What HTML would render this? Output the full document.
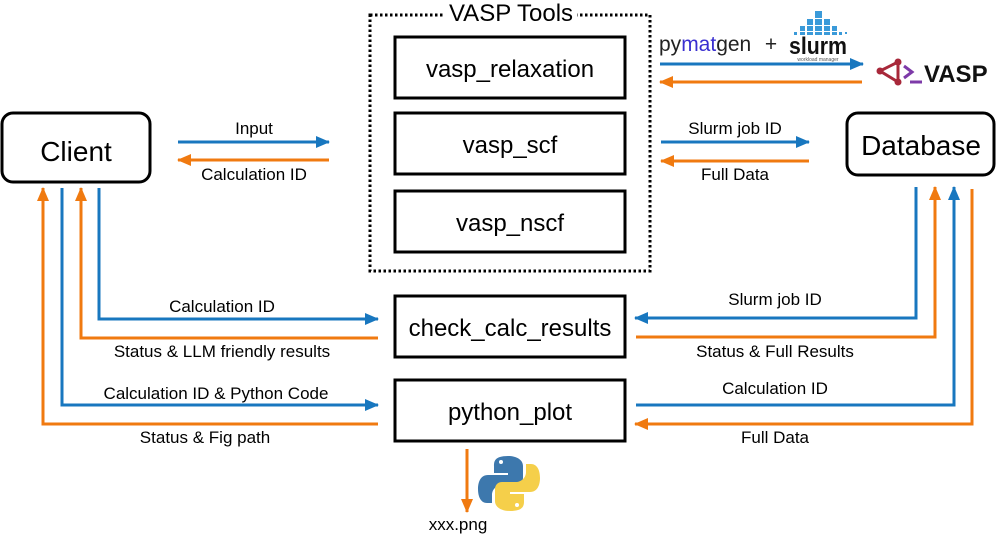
<!DOCTYPE html>
<html><head><meta charset="utf-8"><style>
html,body{margin:0;padding:0;background:#fff;}
svg{display:block;font-family:"Liberation Sans",Arial,sans-serif;}
</style></head><body>
<svg width="997" height="535" viewBox="0 0 997 535" xmlns="http://www.w3.org/2000/svg">
<defs>
<marker id="ab" markerWidth="14" markerHeight="12" refX="13" refY="6" orient="auto" markerUnits="userSpaceOnUse" viewBox="0 0 14 12"><path d="M0,0 L14,6 L0,12 z" fill="#1877bf"/></marker>
<marker id="ao" markerWidth="14" markerHeight="12" refX="13" refY="6" orient="auto" markerUnits="userSpaceOnUse" viewBox="0 0 14 12"><path d="M0,0 L14,6 L0,12 z" fill="#f07a10"/></marker>
</defs>
<g fill="none" stroke-width="3">
<rect x="2" y="113" width="148" height="69" rx="11" stroke="#000"/>
<rect x="847" y="113" width="147" height="62" rx="11" stroke="#000"/>
<rect x="370" y="15" width="280" height="256" stroke="#000" stroke-dasharray="2.5,2.5"/>
<rect x="395" y="37" width="230" height="61" stroke="#000"/>
<rect x="395" y="113" width="230" height="61" stroke="#000"/>
<rect x="395" y="191" width="230" height="61" stroke="#000"/>
<rect x="395" y="296" width="230" height="61" stroke="#000"/>
<rect x="395" y="380" width="230" height="61" stroke="#000"/>
</g>
<rect x="443" y="2" width="134" height="20" fill="#fff"/>
<g font-size="24" text-anchor="middle" fill="#000">
<text x="511" y="21" font-size="24">VASP Tools</text>
<text x="510" y="77">vasp_relaxation</text>
<text x="510" y="153">vasp_scf</text>
<text x="510" y="231">vasp_nscf</text>
<text x="510" y="336">check_calc_results</text>
<text x="510" y="420">python_plot</text>
<text x="76" y="161" font-size="28">Client</text>
<text x="921" y="155" font-size="28">Database</text>
</g>
<g fill="none" stroke-width="3">
<line x1="178" y1="142" x2="329" y2="142" stroke="#1877bf" marker-end="url(#ab)"/>
<line x1="329" y1="160" x2="178" y2="160" stroke="#f07a10" marker-end="url(#ao)"/>
<line x1="661" y1="142" x2="809" y2="142" stroke="#1877bf" marker-end="url(#ab)"/>
<line x1="809" y1="161" x2="661" y2="161" stroke="#f07a10" marker-end="url(#ao)"/>
<line x1="660" y1="64" x2="863" y2="64" stroke="#1877bf" marker-end="url(#ab)"/>
<line x1="862" y1="82" x2="660" y2="82" stroke="#f07a10" marker-end="url(#ao)"/>
<polyline points="99,188 99,319 378,319" stroke="#1877bf" marker-end="url(#ab)"/>
<polyline points="378,338 81,338 81,188" stroke="#f07a10" marker-end="url(#ao)"/>
<polyline points="62,188 62,405 378,405" stroke="#1877bf" marker-end="url(#ab)"/>
<polyline points="378,424 43,424 43,188" stroke="#f07a10" marker-end="url(#ao)"/>
<polyline points="916,187 916,318 635,318" stroke="#1877bf" marker-end="url(#ab)"/>
<polyline points="636,337 935,337 935,187" stroke="#f07a10" marker-end="url(#ao)"/>
<polyline points="636,405 954,405 954,187" stroke="#1877bf" marker-end="url(#ab)"/>
<polyline points="972,189 972,424 635,424" stroke="#f07a10" marker-end="url(#ao)"/>
<line x1="467" y1="449" x2="467" y2="512" stroke="#f07a10" marker-end="url(#ao)"/>
</g>
<g font-size="17" text-anchor="middle" fill="#000">
<text x="254" y="134">Input</text>
<text x="254" y="180">Calculation ID</text>
<text x="735" y="134">Slurm job ID</text>
<text x="735" y="180">Full Data</text>
<text x="222" y="312">Calculation ID</text>
<text x="222" y="357">Status &amp; LLM friendly results</text>
<text x="216" y="399">Calculation ID &amp; Python Code</text>
<text x="205" y="443">Status &amp; Fig path</text>
<text x="775" y="305">Slurm job ID</text>
<text x="775" y="357">Status &amp; Full Results</text>
<text x="775" y="394">Calculation ID</text>
<text x="775" y="443">Full Data</text>
<text x="458" y="530">xxx.png</text>
</g>
<text x="659" y="51" font-size="21" fill="#222">py<tspan fill="#3a2fd0">mat</tspan>gen</text>
<text x="771" y="51" font-size="21" fill="#222" text-anchor="middle">+</text>
<g fill="#3a9ad9">
<rect x="815" y="11" width="7" height="7"/>
<rect x="807" y="19" width="6" height="6"/><rect x="815" y="19" width="7" height="6"/><rect x="824" y="19" width="6" height="6"/>
<rect x="800" y="26" width="5" height="5"/><rect x="807" y="26" width="6" height="5"/><rect x="815" y="26" width="7" height="5"/><rect x="824" y="26" width="6" height="5"/><rect x="832" y="26" width="5" height="5"/>
<rect x="794" y="32" width="3" height="3"/><rect x="800" y="32" width="5" height="3"/><rect x="807" y="32" width="6" height="3"/><rect x="815" y="32" width="7" height="3"/><rect x="824" y="32" width="6" height="3"/><rect x="832" y="32" width="5" height="3"/><rect x="839" y="32" width="3" height="3"/><rect x="845" y="32" width="2" height="2"/>
</g>
<text x="818" y="54" font-size="24" font-weight="bold" fill="#111" text-anchor="middle" textLength="58" lengthAdjust="spacingAndGlyphs">slurm</text>
<text x="818" y="61" font-size="5" fill="#555" text-anchor="middle">workload manager</text>
<g stroke="#a8283a" stroke-width="3" fill="none"><polyline points="898,62 880,71 898,82"/><line x1="898" y1="62" x2="898" y2="82"/></g>
<circle cx="898" cy="62" r="3.5" fill="#a8283a"/><circle cx="880" cy="71" r="3.5" fill="#a8283a"/><circle cx="898" cy="82" r="3.5" fill="#a8283a"/>
<polyline points="904,66 912,72 904,78" stroke="#7d3aa8" stroke-width="3" fill="none"/>
<line x1="910" y1="82" x2="922" y2="82" stroke="#7d3aa8" stroke-width="3"/>
<text x="924" y="82" font-size="24" font-weight="bold" fill="#111">VASP</text>
<g>
<path d="M508,456 c-14,0 -14,6 -14,10 v7 h14 v2 h-20 c-8,0 -10,8 -10,14 c0,8 3,14 9,14 h5 v-8 c0,-6 5,-10 10,-10 h14 c4,0 7,-3 7,-7 v-12 c0,-6 -6,-10 -15,-10 z" fill="#3d78ad"/>
<path d="M510,511 c14,0 14,-6 14,-10 v-7 h-14 v-2 h20 c8,0 10,-8 10,-14 c0,-8 -3,-14 -9,-14 h-5 v8 c0,6 -5,10 -10,10 h-14 c-4,0 -7,3 -7,7 v12 c0,6 6,10 15,10 z" fill="#f5cf4a"/>
<circle cx="501" cy="462" r="2" fill="#fff"/><circle cx="517" cy="505" r="2" fill="#fff"/>
</g>
</svg>
</body></html>
